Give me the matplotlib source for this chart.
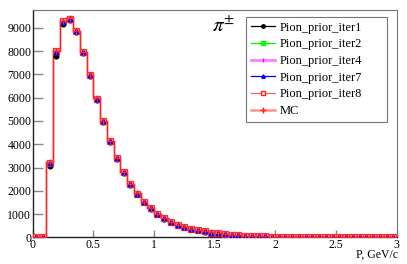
import numpy as np
import matplotlib
matplotlib.use("Agg")
import matplotlib.pyplot as plt
from matplotlib.lines import Line2D

plt.rcParams['font.family'] = ['Liberation Serif', 'DejaVu Serif']
plt.rcParams['mathtext.fontset'] = 'stix'

# 54 bins between 0 and 3 GeV/c
n_bins = 54
p_min, p_max = 0.0, 3.0

mc = [0, 0, 3250, 8000, 9280, 9400, 8880, 7970, 6980, 5970, 4990, 4150,
      3420, 2810, 2310, 1890, 1540, 1250, 1010, 820, 670, 550, 465, 385,
      320, 260, 215, 178, 143, 117, 96, 79, 64, 53, 44, 37, 31, 26, 22, 18,
      15, 13, 11, 9, 8, 7, 6, 5, 5, 4, 4, 3, 3, 3]
iter1 = [0, 0, 3080, 7780, 9180, 9330, 8830, 7920, 6930, 5920, 4940, 4100,
         3370, 2760, 2270, 1850, 1510, 1220, 990, 800, 655, 540, 455, 378,
         313, 255, 210, 174, 140, 114, 94, 77, 63, 52, 43, 36, 30, 25, 21, 18,
         15, 12, 10, 9, 8, 7, 6, 5, 4, 4, 3, 3, 3, 2]
iter2 = [0, 0, 3180, 7960, 9250, 9380, 8860, 7950, 6960, 5950, 4970, 4130,
         3400, 2790, 2295, 1875, 1530, 1240, 1000, 812, 664, 546, 461, 382,
         317, 258, 213, 176, 142, 116, 95, 78, 64, 53, 44, 37, 31, 26, 22, 18,
         15, 13, 11, 9, 8, 7, 6, 5, 5, 4, 4, 3, 3, 3]
iter4 = [0, 0, 3190, 7970, 9260, 9385, 8865, 7955, 6965, 5955, 4975, 4135,
         3405, 2795, 2300, 1880, 1533, 1243, 1003, 814, 666, 547, 462, 383,
         318, 259, 214, 177, 142, 116, 95, 78, 64, 53, 44, 37, 31, 26, 22, 18,
         15, 13, 11, 9, 8, 7, 6, 5, 5, 4, 4, 3, 3, 3]
iter7 = [0, 0, 3200, 7980, 9265, 9390, 8870, 7960, 6970, 5960, 4980, 4140,
         3410, 2800, 2303, 1883, 1535, 1245, 1005, 816, 667, 548, 463, 384,
         319, 259, 214, 177, 143, 117, 96, 79, 64, 53, 44, 37, 31, 26, 22, 18,
         15, 13, 11, 9, 8, 7, 6, 5, 5, 4, 4, 3, 3, 3]
iter8 = [0, 0, 3205, 7985, 9268, 9392, 8872, 7962, 6972, 5962, 4982, 4142,
         3412, 2802, 2305, 1885, 1536, 1246, 1006, 817, 668, 549, 463, 384,
         319, 259, 214, 177, 143, 117, 96, 79, 64, 53, 44, 37, 31, 26, 22, 18,
         15, 13, 11, 9, 8, 7, 6, 5, 5, 4, 4, 3, 3, 3]

x_ticks = [0, 0.5, 1, 1.5, 2, 2.5, 3]
x_tick_labels = ['0', '0.5', '1', '1.5', '2', '2.5', '3']
y_ticks = [0, 1000, 2000, 3000, 4000, 5000, 6000, 7000, 8000, 9000]

edges = np.linspace(p_min, p_max, n_bins + 1)
centers = 0.5 * (edges[:-1] + edges[1:])

fig = plt.figure(figsize=(4.07, 2.64), dpi=100)
ax = fig.add_axes([0.0803, 0.1004, 0.8944, 0.8616])

# MC histogram outline (faint pink halo + red line)
mc_arr = np.array(mc, dtype=float)
step_y = np.concatenate([mc_arr, [mc_arr[-1]]])
ax.step(edges, step_y, where='post', color=(1, 0.4, 0.4, 0.35), lw=2.2, zorder=2)
ax.step(edges, step_y, where='post', color='#ff2020', lw=0.9, zorder=3)

ax.plot(centers, iter1, ls='none', marker='o', ms=3.4, color='black', zorder=4)
ax.plot(centers, iter2, ls='none', marker='s', ms=3.4, color='#00ff00', zorder=4)
ax.plot(centers, iter4, ls='none', marker='.', ms=3, color='#ff00ff', zorder=4)
ax.plot(centers, iter8, ls='none', marker='s', ms=5.0, mfc='#ff8888', mec='#ff3030',
        mew=0.9, zorder=5)
ax.plot(centers, iter7, ls='none', marker='^', ms=3.2, color='#0000ff', zorder=6)
ax.plot(centers, mc, ls='none', marker='+', ms=4.5, color='#ff2020', mew=0.8, zorder=7)

ax.set_xlim(p_min, p_max)
ax.set_ylim(0, 9760)
ax.set_xticks(x_ticks)
ax.set_xticklabels(x_tick_labels)
ax.set_yticks(y_ticks)
ax.tick_params(axis='both', direction='in', labelsize=8.5, color='#888888', width=1.0)
ax.tick_params(axis='y', length=7.5, pad=1)
ax.tick_params(axis='x', length=5, pad=1)
for side in ['left', 'bottom']:
    ax.spines[side].set_color('#222222')
    ax.spines[side].set_linewidth(1.0)
for side in ['top', 'right']:
    ax.spines[side].set_color('#777777')
    ax.spines[side].set_linewidth(0.8)

fig.text(224 / 407, 1 - 27 / 264, r'$\pi^{\pm}$', fontsize=15, ha='center', va='center')

fig.text(0.978, 0.012, 'P, GeV/c', ha='right', va='bottom', fontsize=8.5)

handles = [
    Line2D([], [], color='black', marker='o', ms=2.5, lw=0.9),
    Line2D([], [], color='#00ff00', marker='s', ms=2.5, lw=0.9),
    Line2D([], [], color='#ff80ff', marker='|', ms=3, mec='#ff00ff', lw=2.0),
    Line2D([], [], color='#0000ff', marker='^', ms=2.5, lw=0.9),
    Line2D([], [], color='#ff6060', marker='s', ms=3, mfc='white', mec='#ff2020', lw=0.9),
    Line2D([], [], color='#ff9090', marker='+', ms=4, mec='#ff2020', lw=1.8),
]
labels = ['Pion_prior_iter1', 'Pion_prior_iter2', 'Pion_prior_iter4',
          'Pion_prior_iter7', 'Pion_prior_iter8', 'MC']
leg_x0, leg_x1 = 246 / 407, 387 / 407
leg_top = 1 - 17 / 264
leg = fig.legend(handles, labels, loc='upper left', mode='expand',
                 bbox_to_anchor=(leg_x0, leg_top - 0.4, leg_x1 - leg_x0, 0.4),
                 fontsize=8.9, frameon=True, fancybox=False, handlelength=2.0,
                 handletextpad=0.38, labelspacing=0.38, borderpad=0.38, borderaxespad=0)
leg.get_frame().set_edgecolor('#555555')
leg.get_frame().set_linewidth(0.8)

fig.savefig('out.png', dpi=100)
